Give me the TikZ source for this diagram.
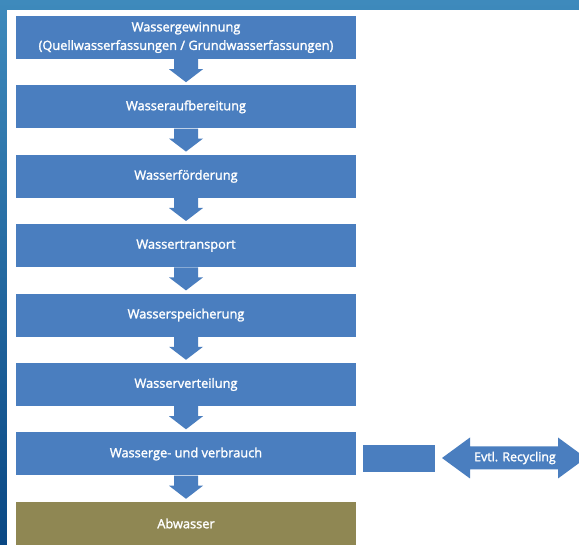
\documentclass[tikz,border=0pt]{standalone}
\usepackage{fontspec}
\newfontfamily\stagefont[FakeBold=1.8]{Open Sans}
\usetikzlibrary{calc}

\definecolor{boxblue}{RGB}{74,126,191}
\definecolor{sewage}{RGB}{143,135,83}
\definecolor{frametop}{RGB}{62,138,188}
\definecolor{framebottom}{RGB}{10,72,132}

\tikzset{
  stage/.style={fill=boxblue, minimum width=340, minimum height=43, inner sep=0,
    text=white, align=center, font=\stagefont\fontsize{12.8}{18.5}\selectfont},
  sidebox/.style={fill=boxblue, minimum width=72, minimum height=27, inner sep=0},
}

% block arrow from one stage down to the next
\newcommand{\stagearrow}[2]{%
  \fill[boxblue] ($(#1.south)+(-12,0)$) -- ++(0,10) -- ++(-5,0)
    -- ($(#2.north)+(0,-3)$) -- ($(#1.south)+(17,10)$) -- ++(-5,0)
    -- ($(#1.south)+(12,0)$) -- cycle;}

\begin{document}
\begin{tikzpicture}[x=1pt,y=-1pt]

\useasboundingbox (0,0) rectangle (579,545);
\shade[top color=frametop, bottom color=framebottom] (0,0) rectangle (579,545);
\fill[white] (7,10) rectangle (579,545);

\node[stage] (gewinnung)    at (186,37.5)  {Wassergewinnung\\(Quellwasserfassungen / Grundwasserfassungen)};
\node[stage] (aufbereitung) at (186,106.9) {Wasseraufbereitung};
\node[stage] (foerderung)   at (186,176.3) {Wasserförderung};
\node[stage] (transport)    at (186,245.7) {Wassertransport};
\node[stage] (speicherung)  at (186,315.1) {Wasserspeicherung};
\node[stage] (verteilung)   at (186,384.5) {Wasserverteilung};
\node[stage] (verbrauch)    at (186,454)   {Wasserge- und verbrauch};
\node[stage, fill=sewage] (abwasser) at (186,523.5) {Abwasser};

\stagearrow{gewinnung}{aufbereitung}
\stagearrow{aufbereitung}{foerderung}
\stagearrow{foerderung}{transport}
\stagearrow{transport}{speicherung}
\stagearrow{speicherung}{verteilung}
\stagearrow{verteilung}{verbrauch}
\stagearrow{verbrauch}{abwasser}

\node[sidebox] (link) at (399,458.5) {};

% double arrow round the recycling label
\fill[boxblue] ($(514,458)+(-72,0)$) -- ++(28,-20.5) -- ++(0,9) -- ++(88,0) -- ++(0,-9)
  -- ++(28,20.5) -- ++(-28,20.5) -- ++(0,-9) -- ++(-88,0) -- ++(0,9) -- cycle;
\node[text=white, font=\stagefont\fontsize{12.4}{14}\selectfont] (recycling) at (515,458) {Evtl. Recycling};

\end{tikzpicture}
\end{document}
